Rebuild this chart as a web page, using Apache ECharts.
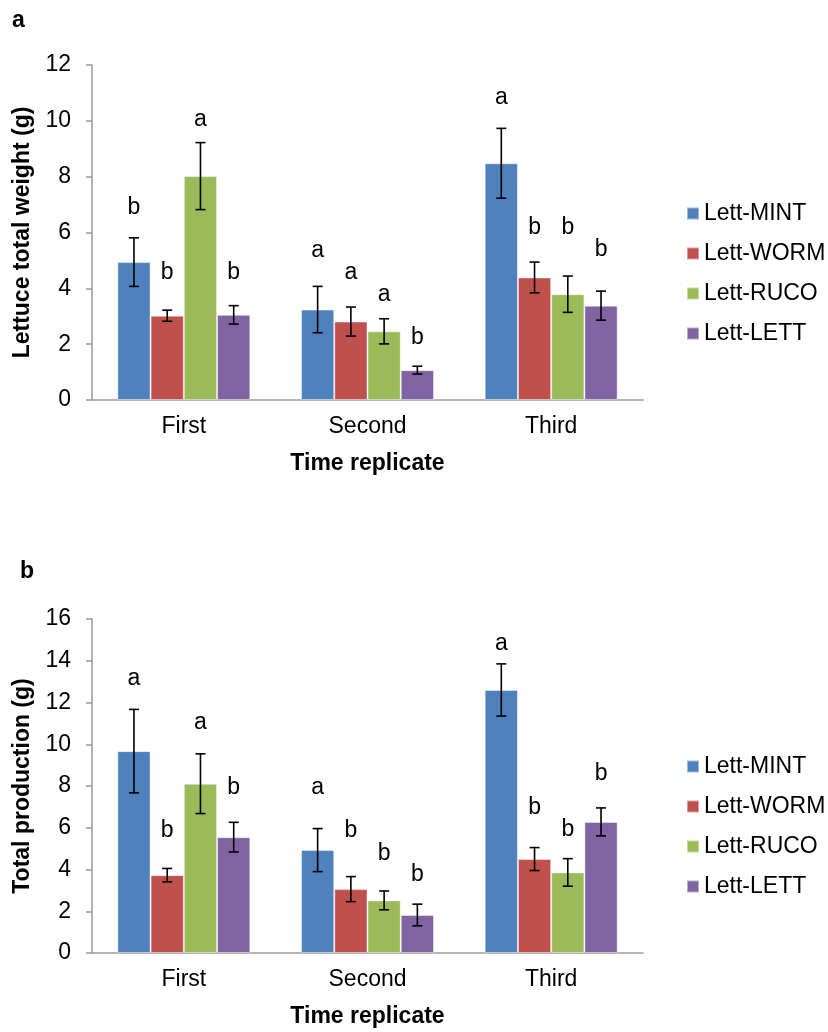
<!DOCTYPE html>
<html>
<head>
<meta charset="utf-8">
<script src="https://cdn.jsdelivr.net/npm/echarts@6/dist/echarts.min.js"></script>
<style>
  html, body { margin: 0; padding: 0; background: #fff; }
  #chart { width: 828px; height: 1032px; }
</style>
</head>
<body>
<div id="chart"></div>
<script>
const categories = ['First', 'Second', 'Third']
const seriesNames = ['Lett-MINT', 'Lett-WORM', 'Lett-RUCO', 'Lett-LETT']
const colors = ['#4F81BD', '#C0504D', '#9BBB59', '#8064A2']
const yTicksA = [0, 2, 4, 6, 8, 10, 12]
const yTicksB = [0, 2, 4, 6, 8, 10, 12, 14, 16]

// panel a: lettuce total weight (g)
const weightMint = [4.94, 3.24, 8.48]
const weightWorm = [3.02, 2.81, 4.39]
const weightRuco = [8.02, 2.46, 3.79]
const weightLett = [3.05, 1.07, 3.38]
const weightErrMint = [0.87, 0.83, 1.25]
const weightErrWorm = [0.20, 0.52, 0.55]
const weightErrRuco = [1.20, 0.45, 0.65]
const weightErrLett = [0.33, 0.14, 0.52]
const weightLetMint = ['b', 'a', 'a']
const weightLetWorm = ['b', 'a', 'b']
const weightLetRuco = ['a', 'a', 'b']
const weightLetLett = ['b', 'b', 'b']
// height (g) where each letter sits
const weightLvlMint = [6.9, 5.36, 10.82]
const weightLvlWorm = [4.57, 4.57, 6.18]
const weightLvlRuco = [10.04, 3.79, 6.18]
const weightLvlLett = [4.57, 2.25, 5.39]

// panel b: total production (g)
const prodMint = [9.67, 4.93, 12.6]
const prodWorm = [3.73, 3.06, 4.50]
const prodRuco = [8.11, 2.52, 3.86]
const prodLett = [5.55, 1.82, 6.28]
const prodErrMint = [2.00, 1.03, 1.25]
const prodErrWorm = [0.32, 0.60, 0.55]
const prodErrRuco = [1.43, 0.45, 0.66]
const prodErrLett = [0.71, 0.52, 0.67]
const prodLetMint = ['a', 'a', 'a']
const prodLetWorm = ['b', 'b', 'b']
const prodLetRuco = ['a', 'b', 'b']
const prodLetLett = ['b', 'b', 'b']
const prodLvlMint = [13.12, 7.92, 14.83]
const prodLvlWorm = [5.85, 5.85, 6.94]
const prodLvlRuco = [11.05, 4.78, 5.9]
const prodLvlLett = [7.92, 3.75, 8.61]

const FONT = '"Liberation Sans", Arial, sans-serif'
const CAT_GAP = 0.276
const FS = 23

const panels = [
  {
    values: [weightMint, weightWorm, weightRuco, weightLett],
    errs: [weightErrMint, weightErrWorm, weightErrRuco, weightErrLett],
    letters: [weightLetMint, weightLetWorm, weightLetRuco, weightLetLett],
    levels: [weightLvlMint, weightLvlWorm, weightLvlRuco, weightLvlLett]
  },
  {
    values: [prodMint, prodWorm, prodRuco, prodLett],
    errs: [prodErrMint, prodErrWorm, prodErrRuco, prodErrLett],
    letters: [prodLetMint, prodLetWorm, prodLetRuco, prodLetLett],
    levels: [prodLvlMint, prodLvlWorm, prodLvlRuco, prodLvlLett]
  }
]

// error bar + significance letter, placed over bar k of each group
const makeErrorBar = (k, errs, letters, levels) => (params, api) => {
  const i = params.dataIndex
  const cat = api.value(0)
  const val = api.value(1)
  const band = api.size([1, 0])[0]
  const barW = band * (1 - CAT_GAP) / 4
  const x = api.coord([cat, 0])[0] - 2 * barW + (k + 0.5) * barW
  const top = api.coord([cat, val + errs[i]])[1]
  const bot = api.coord([cat, val - errs[i]])[1]
  const ly = api.coord([cat, levels[i]])[1]
  const st = { stroke: '#000', lineWidth: 1.6 }
  return {
    type: 'group',
    children: [
      { type: 'line', shape: { x1: x, y1: top, x2: x, y2: bot }, style: st },
      { type: 'line', shape: { x1: x - 5, y1: top, x2: x + 5, y2: top }, style: st },
      { type: 'line', shape: { x1: x - 5, y1: bot, x2: x + 5, y2: bot }, style: st },
      {
        type: 'text',
        x: x,
        y: ly,
        style: {
          text: letters[i],
          fill: '#000',
          font: FS + 'px ' + FONT,
          textAlign: 'center',
          textVerticalAlign: 'middle'
        }
      }
    ]
  }
}

const axisLineStyle = { color: '#9f9f9f', width: 1.6 }

const makeXAxis = (gridIndex) => ({
  type: 'category',
  gridIndex,
  data: categories,
  name: 'Time replicate',
  nameLocation: 'middle',
  nameGap: 52,
  nameTextStyle: { fontSize: FS, fontWeight: 'bold', color: '#000', fontFamily: FONT },
  axisLine: { lineStyle: axisLineStyle },
  axisTick: { show: false },
  axisLabel: { fontSize: FS, color: '#000', fontFamily: FONT, margin: 15 }
})

const makeYAxis = (gridIndex, name, ticks) => ({
  type: 'value',
  gridIndex,
  min: ticks[0],
  max: ticks[ticks.length - 1],
  interval: ticks[1] - ticks[0],
  name,
  nameLocation: 'middle',
  nameGap: 51,
  nameTextStyle: { fontSize: FS, fontWeight: 'bold', color: '#000', fontFamily: FONT },
  axisLine: { show: true, lineStyle: axisLineStyle },
  axisTick: { show: true, length: 6, lineStyle: axisLineStyle },
  splitLine: { show: false },
  axisLabel: { fontSize: FS, color: '#000', fontFamily: FONT, margin: 21 }
})

const series = []
panels.forEach((p, g) => {
  p.values.forEach((vals, k) => {
    series.push({
      name: seriesNames[k],
      type: 'bar',
      xAxisIndex: g,
      yAxisIndex: g,
      data: vals,
      barGap: '0%',
      barCategoryGap: (CAT_GAP * 100) + '%',
      itemStyle: { color: colors[k], borderColor: 'rgba(255,255,255,0.45)', borderWidth: 1 }
    })
  })
  p.values.forEach((vals, k) => {
    series.push({
      name: 'err-' + g + '-' + k,
      type: 'custom',
      xAxisIndex: g,
      yAxisIndex: g,
      z: 5,
      clip: false,
      renderItem: makeErrorBar(k, p.errs[k], p.letters[k], p.levels[k]),
      data: vals.map((v, i) => [i, v])
    })
  })
})

const makeLegend = (top) => ({
  orient: 'vertical',
  left: 681,
  top,
  itemWidth: 12,
  itemHeight: 12,
  itemGap: 17,
  icon: 'rect',
  data: seriesNames,
  textStyle: { fontSize: FS, color: '#000', fontFamily: FONT }
})

const chart = echarts.init(document.getElementById('chart'))
chart.setOption({
  animation: false,
  backgroundColor: '#fff',
  title: [
    { text: 'a', left: 7, top: 4, textStyle: { fontSize: FS, fontWeight: 'bold', color: '#000', fontFamily: FONT } },
    { text: 'b', left: 15, top: 555, textStyle: { fontSize: FS, fontWeight: 'bold', color: '#000', fontFamily: FONT } }
  ],
  legend: [makeLegend(197), makeLegend(750)],
  grid: [
    { left: 92, top: 65, width: 551, height: 335 },
    { left: 92, top: 619, width: 551, height: 334 }
  ],
  xAxis: [makeXAxis(0), makeXAxis(1)],
  yAxis: [
    makeYAxis(0, 'Lettuce total weight (g)', yTicksA),
    makeYAxis(1, 'Total production (g)', yTicksB)
  ],
  series
})

window.addEventListener('resize', () => chart.resize())
</script>
</body>
</html>
